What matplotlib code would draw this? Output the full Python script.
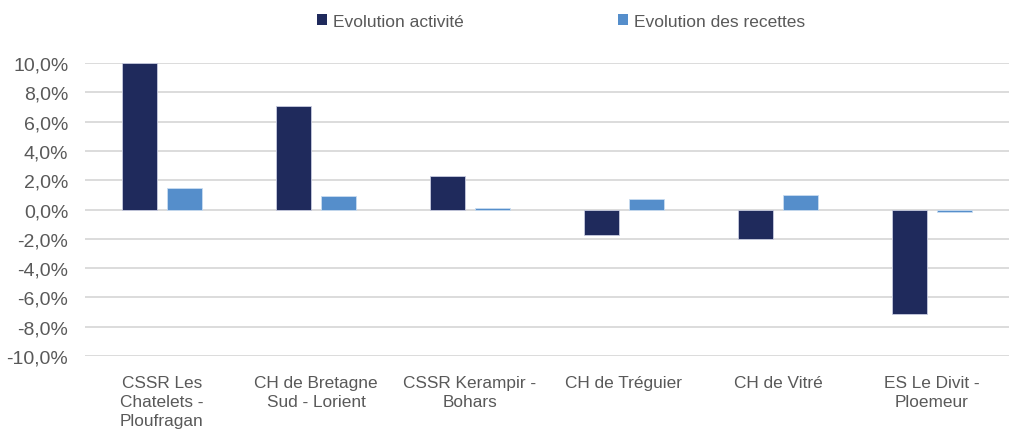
import matplotlib.pyplot as plt
import numpy as np
from matplotlib.patches import Patch
from matplotlib.ticker import FuncFormatter

plt.rcParams['font.family'] = ['Liberation Sans', 'DejaVu Sans']

categories = ['CSSR Les\nChatelets -\nPloufragan', 'CH de Bretagne\nSud - Lorient',
              'CSSR Kerampir -\nBohars', 'CH de Tréguier', 'CH de Vitré',
              'ES Le Divit -\nPloemeur']
activite = [10.0, 7.05, 2.3, -1.75, -2.0, -7.1]
recettes = [1.5, 0.95, 0.1, 0.75, 1.0, -0.2]
series_names = ['Evolution activité', 'Evolution des recettes']

dark = '#1f2a5c'
light = '#558ecb'
grey = '#595959'

fig = plt.figure(figsize=(10.09, 4.31), dpi=100)
ax = fig.add_axes([0.0842, 0.1717, 0.9158, 0.6798])

x = np.arange(len(categories))
w = 0.227
ax.bar(x - 0.0325 - w / 2, activite, w, color=dark, edgecolor='#c8cce0', linewidth=0.6, zorder=3)
ax.bar(x + 0.0325 + w / 2, recettes, w, color=light, edgecolor='#c9dcf0', linewidth=0.6, zorder=3)

ax.set_xlim(-0.5, len(categories) - 0.5)
ax.set_ylim(-10, 10)
ax.set_yticks(np.arange(-10, 10.1, 2))
ax.yaxis.set_major_formatter(FuncFormatter(lambda v, p: f'{v:.1f}%'.replace('.', ',')))
ax.grid(axis='y', color='#d9d9d9', linewidth=1.3, zorder=0)
for s in ax.spines.values():
    s.set_visible(False)
ax.tick_params(axis='y', length=0, labelsize=14, colors=grey, pad=12)
ax.tick_params(axis='x', length=0, labelsize=12.4, colors=grey, pad=14)
ax.set_xticks(x)
ax.set_xticklabels(categories, linespacing=1.3)

handles = [Patch(facecolor=dark), Patch(facecolor=light)]
fig.legend(handles, series_names, loc='center left', bbox_to_anchor=(0.3142, 0.948), ncol=2,
           frameon=False, fontsize=12.5, labelcolor=grey, handlelength=0.6, handleheight=0.6,
           handletextpad=0.3, columnspacing=8.9, borderpad=0, borderaxespad=0)

fig.savefig('out.png', dpi=100)
